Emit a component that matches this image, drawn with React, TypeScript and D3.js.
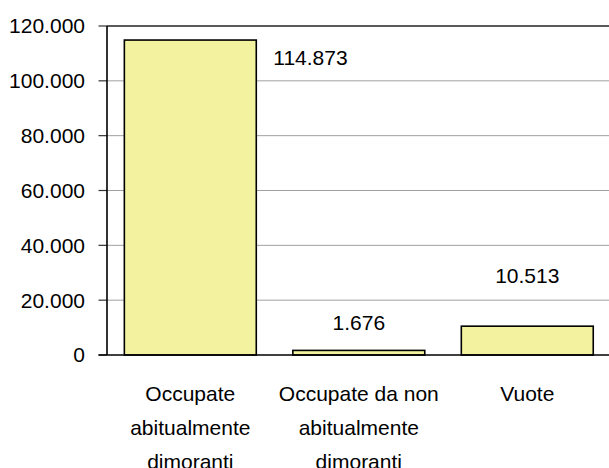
import React from "react";
import * as d3 from "d3";

const categories: string[][] = [
  ["Occupate", "abitualmente", "dimoranti"],
  ["Occupate da non", "abitualmente", "dimoranti"],
  ["Vuote"],
];
const values: number[] = [114873, 1676, 10513];
const yTicks: number[] = [0, 20000, 40000, 60000, 80000, 100000, 120000];

const labelLayout = [
  { anchor: "start", dx: 17, dy: 25, fromRight: true },
  { anchor: "middle", dx: 0, dy: -20, fromRight: false },
  { anchor: "middle", dx: 0, dy: -43, fromRight: false },
];

const W = 609;
const H = 468;
const left = 107;
const top = 26;
const bottom = 355;
const right = 610.6;
const FONT = "'Liberation Sans', Arial, sans-serif";

const it = d3.formatLocale({
  decimal: ",",
  thousands: ".",
  grouping: [3],
  currency: ["€", ""],
});
const fmt = it.format(",d");

export default function App() {
  const keys = categories.map((c) => c.join(" "));
  const x = d3
    .scaleBand<string>()
    .domain(keys)
    .range([left, right])
    .paddingInner(0.217)
    .paddingOuter(0.103);
  const y = d3.scaleLinear().domain([0, 120000]).range([bottom, top]);

  return (
    <div style={{ position: "absolute", left: 0, top: 0 }}>
      <svg width={W} height={H} style={{ display: "block" }} fontFamily={FONT}>
        <rect x={0} y={0} width={W} height={H} fill="#fff" />
        {yTicks.map((t) => (
          <g key={t}>
            {t !== 0 && t !== 120000 && (
              <line x1={left} x2={right} y1={y(t)} y2={y(t)} stroke="#a0a0a0" strokeWidth={1} />
            )}
            <line x1={98.5} x2={left} y1={y(t)} y2={y(t)} stroke="#333" strokeWidth={1.2} />
            <text x={85} y={y(t)} dy="0.35em" textAnchor="end" fontSize={21} fill="#000">
              {fmt(t)}
            </text>
          </g>
        ))}
        <line x1={left} x2={right} y1={y(120000)} y2={y(120000)} stroke="#222" strokeWidth={1.3} />
        <line x1={right} x2={right} y1={top} y2={bottom} stroke="#222" strokeWidth={1.3} />
        {values.map((v, i) => {
          const k = keys[i];
          const bx = x(k)!;
          const bw = x.bandwidth();
          return (
            <rect
              key={k}
              x={bx}
              y={y(v)}
              width={bw}
              height={y(0) - y(v)}
              fill="#F3F29F"
              stroke="#000"
              strokeWidth={1.6}
            />
          );
        })}
        <line x1={left} x2={left} y1={top} y2={bottom} stroke="#000" strokeWidth={1.6} />
        <line x1={98.5} x2={right} y1={bottom} y2={bottom} stroke="#000" strokeWidth={1.6} />
        {values.map((v, i) => {
          const k = keys[i];
          const L = labelLayout[i];
          const bx = x(k)!;
          const bw = x.bandwidth();
          const lx = L.fromRight ? bx + bw + L.dx : bx + bw / 2 + L.dx;
          return (
            <text
              key={"l" + k}
              x={lx}
              y={y(v) + L.dy}
              textAnchor={L.anchor as any}
              fontSize={21}
              fill="#000"
            >
              {fmt(v)}
            </text>
          );
        })}
        {categories.map((lines, i) => {
          const k = keys[i];
          const cx = x(k)! + x.bandwidth() / 2;
          return (
            <text key={"c" + k} x={cx} textAnchor="middle" fontSize={21} fill="#000">
              {lines.map((ln, j) => (
                <tspan key={j} x={cx} y={400.5 + j * 34}>
                  {ln}
                </tspan>
              ))}
            </text>
          );
        })}
      </svg>
    </div>
  );
}
